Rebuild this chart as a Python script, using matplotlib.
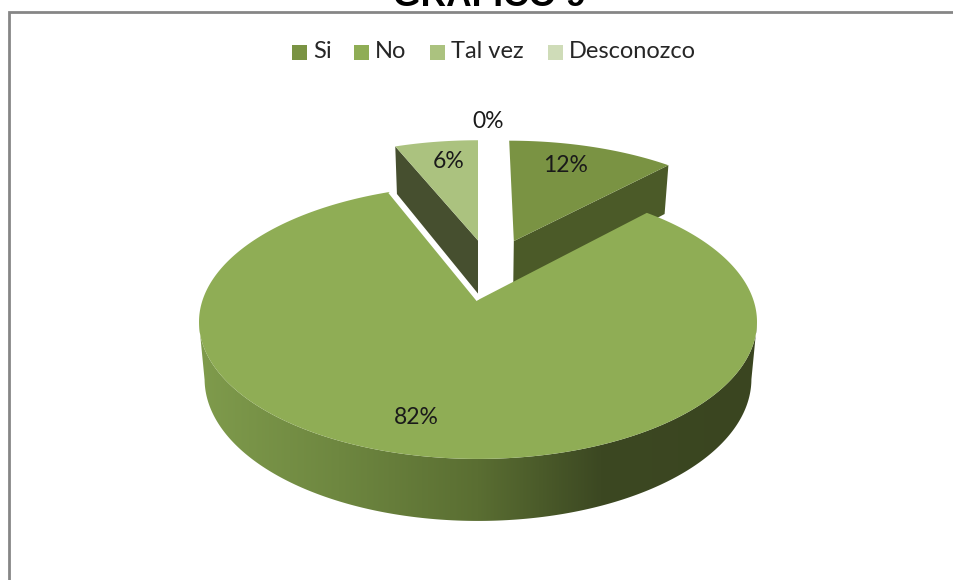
"""3D-look exploded pie drawn by hand on a pixel-sized axes."""
import matplotlib
matplotlib.use("Agg")
import matplotlib.pyplot as plt
import numpy as np
from matplotlib.colors import LinearSegmentedColormap
from matplotlib.patches import Polygon, Rectangle

TITLE = "GRAFICO 9"
CATEGORIES = ["Si", "No", "Tal vez", "Desconozco"]
VALUES = [12, 82, 6, 0]
COLORS = ["#7a9343", "#8fad55", "#abc27f", "#cfdcb8"]
WALL_COLORS = ["#4b5a28", "#5f7334", "#464f2f", "#cfdcb8"]
# slice offset in pie-radius units (sideways, depth)
OFFSETS = [(0.14, -0.475), (0.0, 0.0), (0.0, -0.48), (0.0, -0.48)]

CX, CY = 478, 300
RADIUS, DEPTH, PERSP = 275.4, 133.5, 0.16


def project(x, z):
    s = 1 / (1 - PERSP * z)
    return CX + RADIUS * x * s, CY + DEPTH * z * s


def project_low(x, z):
    px, py = project(x, z)
    return CX + (px - CX) * 0.98, py + 56 + 6 * z


def arc(i, a0, a1, n=200):
    t = np.radians(np.linspace(a0, a1, n))
    dx, dz = OFFSETS[i]
    return dx + np.sin(t), dz - np.cos(t)


plt.rcParams["font.family"] = ["Lato", "DejaVu Sans"]
fig = plt.figure(figsize=(9.54, 5.8), dpi=100)
ax = fig.add_axes([0, 0, 1, 1])
ax.set_xlim(0, 954)
ax.set_ylim(580, 0)
ax.axis("off")

ax.add_patch(Rectangle((9.5, 12), 960, 600, fc="white", ec="#868686", lw=2))
ax.text(489, 5.5, TITLE, family="Liberation Sans", weight="bold", fontsize=25.5,
        ha="center", va="baseline", color="black", clip_on=False)

edges = np.concatenate([[0], np.cumsum(VALUES)]) * 3.6

# back slices: radial wall first, then the top face
for i in (2, 0):
    a0, a1 = edges[i], edges[i + 1]
    ox, oz = OFFSETS[i]
    a_wall = a1 if i == 0 else a0
    ex, ez = arc(i, a_wall, a_wall, 1)
    pts = [project(ox, oz), project(ex[0], ez[0]),
           project_low(ex[0], ez[0]), project_low(ox, oz)]
    ax.add_patch(Polygon(pts, fc=WALL_COLORS[i], ec="none", zorder=2))
    xs, zs = arc(i, a0, a1)
    top = [project(ox, oz)] + list(zip(*project(xs, zs)))
    ax.add_patch(Polygon(top, fc=COLORS[i], ec="none", zorder=3))

# big slice: shaded rim from widest point to widest point, then the top face
xs, zs = arc(1, edges[1], edges[2], 800)
front = zs > 0.16
tx, ty = project(xs[front], zs[front])
bx, by = project_low(xs[front], zs[front])
rim = Polygon(np.vstack([np.column_stack([tx, ty]),
                         np.column_stack([bx, by])[::-1]]),
              fc="none", ec="none", zorder=4)
ax.add_patch(rim)
ramp = LinearSegmentedColormap.from_list(
    "rim", [(0, "#7f9b4c"), (0.25, "#6e8740"), (0.5, "#5a6e32"),
            (0.72, "#3c4822"), (1, "#3a4520")])
img = ax.imshow(np.linspace(0, 1, 256)[None, :], cmap=ramp, aspect="auto",
                extent=(199, 757, 540, 300), zorder=4)
img.set_clip_path(rim)
ax.set_xlim(0, 954)
ax.set_ylim(580, 0)

top = [project(0, 0)] + list(zip(*project(xs, zs)))
ax.add_patch(Polygon(top, fc=COLORS[1], ec="none", zorder=5))
ax.plot(*zip(project(xs[-1], zs[-1]), project(0, 0)), color="white", lw=2.5,
        zorder=5, solid_capstyle="butt")

# data labels
LABEL_POS = [(566, 166), (416, 418), (449, 162), (488, 122)]
for v, (lx, ly) in zip(VALUES, LABEL_POS):
    ax.text(lx, ly, f"{v}%", fontsize=16.5, ha="center", va="center",
            color="#1a1a1a", zorder=6)

# legend
LEGEND_X = [292, 354, 430, 548]
for name, c, lx in zip(CATEGORIES, COLORS, LEGEND_X):
    ax.add_patch(Rectangle((lx, 45), 15, 15, fc=c, ec="none", zorder=6))
    ax.text(lx + 21, 52, name, fontsize=17, ha="left", va="center",
            color="#262626", zorder=6)

fig.savefig("out.png", dpi=100)
plt.close(fig)
